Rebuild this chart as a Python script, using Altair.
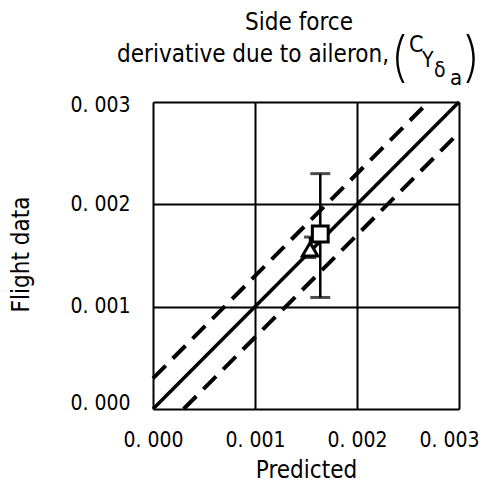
import altair as alt
import pandas as pd

FONT = "DejaVu Sans Condensed, Liberation Sans Narrow, DejaVu Sans, sans-serif"
PAREN_FONT = "Inter, Lato, Noto Sans, DejaVu Sans Condensed, sans-serif"

# axis ticks / labels
tick_values = [0.0, 0.001, 0.002, 0.003]
tick_labels = ["0. 000", "0. 001", "0. 002", "0. 003"]

# reference lines
line_x = [0.0, 0.003]
line_y = [0.0, 0.003]
upper_x = [0.0, 0.0027]
upper_y = [0.0003, 0.003]
lower_x = [0.0003, 0.003]
lower_y = [0.0, 0.0027]

# flight data points
square_x = [0.00164]
square_y = [0.00171]
square_lo = [0.00109]
square_hi = [0.0023]
tri_x = [0.00154]
tri_y = [0.00156]
tri_lo = [0.00148]
tri_hi = [0.00168]

label_expr = "[" + ",".join("'%s'" % s for s in tick_labels) + "][round(datum.value*1000)]"

xs = alt.Scale(domain=[0, 0.003], nice=False, zero=False)
ys = alt.Scale(domain=[0, 0.003], nice=False, zero=False)

x_axis = alt.Axis(values=tick_values, labelExpr=label_expr, grid=True, gridColor="black",
                  gridWidth=2, gridOpacity=1, domain=False, ticks=False, tickSize=0,
                  labelFlush=False, labelOverlap=False,
                  labelOffset={"condition": {"test": "datum.value >= 0.003", "value": -10}, "value": 0},
                  labelFont=FONT, labelFontSize=21, labelColor="black", labelPadding=20,
                  title="Predicted", titleFont=FONT, titleFontSize=24, titleFontWeight="normal",
                  titleColor="black", titleBaseline="alphabetic", titleY=68)
y_axis = alt.Axis(values=tick_values, labelExpr=label_expr, grid=True, gridColor="black",
                  gridWidth=2, gridOpacity=1, domain=False, ticks=False, tickSize=0,
                  labelFlush=False, labelOverlap=False,
                  labelOffset={"condition": [{"test": "datum.value == 0", "value": -6},
                                             {"test": "datum.value >= 0.003", "value": 3}],
                               "value": 0},
                  labelFont=FONT, labelFontSize=21, labelColor="black", labelPadding=23,
                  title="Flight data", titleFont=FONT, titleFontSize=24, titleFontWeight="normal",
                  titleColor="black", titleBaseline="alphabetic", titleX=-125, titleY=152, titleAngle=-90)

diag = pd.DataFrame({"x": line_x, "y": line_y})
up = pd.DataFrame({"x": upper_x, "y": upper_y})
lo = pd.DataFrame({"x": lower_x, "y": lower_y})

base_line = alt.Chart(diag).mark_line(color="black", strokeWidth=3.5).encode(
    x=alt.X("x:Q", scale=xs, axis=x_axis), y=alt.Y("y:Q", scale=ys, axis=y_axis))
up_line = alt.Chart(up).mark_line(color="black", strokeWidth=4, strokeDash=[18, 10]).encode(
    x=alt.X("x:Q", scale=xs), y=alt.Y("y:Q", scale=ys))
lo_line = alt.Chart(lo).mark_line(color="black", strokeWidth=4, strokeDash=[18, 10]).encode(
    x=alt.X("x:Q", scale=xs), y=alt.Y("y:Q", scale=ys))

sq = pd.DataFrame({"x": square_x, "y": square_y, "lo": square_lo, "hi": square_hi})
tr = pd.DataFrame({"x": tri_x, "y": tri_y, "lo": tri_lo, "hi": tri_hi})

def errbar(df, cap):
    r = alt.Chart(df).mark_rule(color="black", strokeWidth=2.5).encode(
        x=alt.X("x:Q", scale=xs), y=alt.Y("lo:Q", scale=ys), y2="hi:Q")
    t1 = alt.Chart(df).mark_tick(color="black", orient="horizontal", size=cap, thickness=3).encode(
        x=alt.X("x:Q", scale=xs), y=alt.Y("lo:Q", scale=ys))
    t2 = alt.Chart(df).mark_tick(color="black", orient="horizontal", size=cap, thickness=3).encode(
        x=alt.X("x:Q", scale=xs), y=alt.Y("hi:Q", scale=ys))
    return r + t1 + t2

tri_pt = alt.Chart(tr).mark_point(shape="triangle-up", size=240, filled=True, fill="white",
                                  stroke="black", strokeWidth=3, opacity=1).encode(
    x=alt.X("x:Q", scale=xs), y=alt.Y("y:Q", scale=ys))
sq_pt = alt.Chart(sq).mark_point(shape="square", size=250, filled=True, fill="white",
                                 stroke="black", strokeWidth=3, opacity=1).encode(
    x=alt.X("x:Q", scale=xs), y=alt.Y("y:Q", scale=ys))

# title pieces
def txt(s, x, y, size, align="left", baseline="alphabetic", font=FONT, weight="normal"):
    return alt.Chart(pd.DataFrame({"t": [s]})).mark_text(
        font=font, fontSize=size, fontWeight=weight, align=align, baseline=baseline,
        color="black").encode(x=alt.value(x), y=alt.value(y), text="t:N")

title = (txt("Side force", 146, -72, 24, align="center")
         + txt("derivative due to aileron,", 236, -40, 24, align="right")
         + txt("(", 246, -26, 54, align="center", font=PAREN_FONT, weight=200)
         + txt("C", 256, -50, 23)
         + txt("Y", 269, -35, 21)
         + txt("δ", 281, -25, 21)
         + txt("a", 297, -17, 22)
         + txt(")", 319, -26, 54, align="center", font=PAREN_FONT, weight=200))

chart = alt.layer(base_line, up_line, lo_line, errbar(tr, 12), errbar(sq, 20), tri_pt, sq_pt, title).properties(
    width=306, height=307,
    autosize=alt.AutoSizeParams(type="none"),
    padding={"left": 145, "top": 94, "right": 22, "bottom": 74},
).configure_view(stroke="black", strokeWidth=3.5).configure(background="white")

chart.save("out.html", embed_options={"renderer": "svg", "actions": False})
